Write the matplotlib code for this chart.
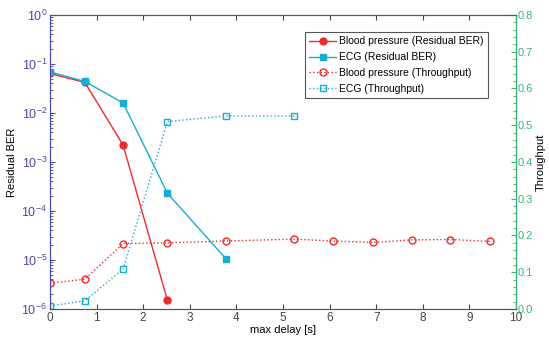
import numpy as np
import matplotlib
matplotlib.use("Agg")
import matplotlib.pyplot as plt
from matplotlib.ticker import LogLocator, MultipleLocator, FixedLocator

plt.rcParams["font.family"] = ["Liberation Sans", "DejaVu Sans"]
plt.rcParams["font.size"] = 8

RED = "#ee2b2b"
CYAN = "#1aaccf"
BLUE_AX = "#4a4aa8"
GREEN_AX = "#3cb371"

# residual BER (left, log)
bp_ber_x = [0.0, 0.75, 1.57, 2.52]
bp_ber_y = [0.064, 0.042, 0.0022, 1.5e-6]
ecg_ber_x = [0.0, 0.75, 1.57, 2.52, 3.77]
ecg_ber_y = [0.069, 0.044, 0.016, 2.3e-4, 1.07e-5]

# throughput (right, linear)
bp_thr_x = [0.0, 0.75, 1.57, 2.52, 3.77, 5.24, 6.07, 6.92, 7.76, 8.59, 9.44]
bp_thr_y = [0.070, 0.081, 0.178, 0.180, 0.185, 0.190, 0.185, 0.181, 0.188, 0.189, 0.184]
ecg_thr_x = [0.0, 0.75, 1.57, 2.52, 3.77, 5.24]
ecg_thr_y = [0.008, 0.022, 0.109, 0.510, 0.525, 0.525]

ber_ticks = [1e-6, 1e-5, 1e-4, 1e-3, 1e-2, 1e-1, 1]

fig = plt.figure(figsize=(5.49, 3.41), dpi=100)
ax = fig.add_axes([0.091, 0.094, 0.849, 0.862])
ax2 = ax.twinx()

l1, = ax.semilogy(bp_ber_x, bp_ber_y, "-o", color=RED, lw=1.0, ms=5,
                  label="Blood pressure (Residual BER)")
l2, = ax.semilogy(ecg_ber_x, ecg_ber_y, "-s", color=CYAN, lw=1.0, ms=4.5,
                  label="ECG (Residual BER)")
l3, = ax2.plot(bp_thr_x, bp_thr_y, ":o", color=RED, lw=1.0, ms=5, mfc="none",
               label="Blood pressure (Throughput)")
l4, = ax2.plot(ecg_thr_x, ecg_thr_y, ":s", color=CYAN, lw=1.0, ms=4.5, mfc="none",
               label="ECG (Throughput)")

ax.set_xlim(0, 10)
ax.set_ylim(1e-6, 1)
ax2.set_ylim(0, 0.8)
ax.set_xticks(range(11))
ax.yaxis.set_major_locator(FixedLocator(ber_ticks))
minor = [m * t for t in ber_ticks[:-1] for m in range(2, 10)]
ax.yaxis.set_minor_locator(FixedLocator(minor))
ax2.yaxis.set_major_locator(MultipleLocator(0.1))
ax2.yaxis.set_minor_locator(MultipleLocator(0.02))

ax.tick_params(axis="x", direction="in", top=True, colors="#444444", labelsize=8.5, pad=2)
ax.tick_params(axis="y", which="both", direction="in", colors=BLUE_AX, labelsize=9, pad=2)
ax.tick_params(axis="y", which="minor", labelleft=False)
ax2.tick_params(axis="y", which="both", direction="in", colors=GREEN_AX, labelsize=8, pad=1)
for s in ("top", "bottom"):
    ax.spines[s].set_color("#555555")
    ax2.spines[s].set_color("#555555")
ax2.spines["left"].set_color(BLUE_AX)
ax2.spines["right"].set_color(GREEN_AX)
ax.spines["left"].set_color(BLUE_AX)

ax.set_xlabel("max delay [s]", labelpad=1, fontsize=8)
ax.set_ylabel("Residual BER", labelpad=3, fontsize=8)
ax2.set_ylabel("Throughput", labelpad=2, fontsize=8)

leg = ax2.legend(handles=[l1, l2, l3, l4], loc="upper right",
                 bbox_to_anchor=(0.951, 0.959), fancybox=False, framealpha=1,
                 edgecolor="#555555", handlelength=2.6, borderpad=0.4,
                 labelspacing=0.55, handletextpad=0.3, fontsize=7.5)
leg.get_frame().set_linewidth(0.8)

fig.savefig("out.png", dpi=100)
